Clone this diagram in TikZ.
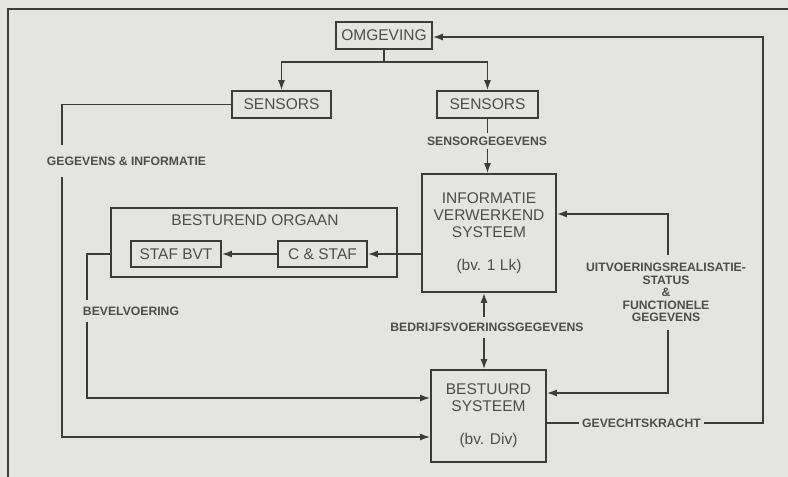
\documentclass[tikz,border=0pt]{standalone}
\usepackage{fontspec}
\setmainfont{Liberation Sans}
\usetikzlibrary{arrows.meta}
\definecolor{bg}{HTML}{E4E4E1}
\definecolor{ln}{HTML}{3C3C3C}
\definecolor{tx}{HTML}{4E4E4E}
\tikzset{
  x=1bp, y=-1bp,
  box/.style={draw=ln, line width=1.6bp, inner sep=0pt, align=center, text=tx,
    font=\fontsize{15.5bp}{17bp}\selectfont},
  lbl/.style={inner sep=0pt, align=center, text=tx,
    font=\bfseries\fontsize{12.2bp}{12.8bp}\selectfont},
  wire/.style={draw=ln, line width=1.6bp},
  arr/.style={wire, -{Latex[length=10bp,width=7bp]}}
}
\begin{document}
\begin{tikzpicture}
\fill[bg] (0,0) rectangle (788,477);
\useasboundingbox (0,0) rectangle (788,477);
% page frame
\draw[wire] (8,477) -- (8,9) -- (788,9);

% boxes
\node[box, minimum width=96bp, minimum height=27bp] (omg) at (384,35.5) {OMGEVING};
\node[box, minimum width=99bp, minimum height=27bp] (sensL) at (281.5,104.5) {SENSORS};
\node[box, minimum width=101bp, minimum height=27bp] (sensR) at (487.5,104.5) {SENSORS};
\node[box, minimum width=134bp, minimum height=118bp] (info) at (489,233)
  {INFORMATIE\\VERWERKEND\\SYSTEEM\\[16bp](bv. 1 Lk)};
\node[box, minimum width=286bp, minimum height=69bp] (best) at (254,242.5) {};
\node[inner sep=0pt, text=tx, font=\fontsize{15.5bp}{17bp}\selectfont] (bestt) at (255,220) {BESTUREND ORGAAN};
\node[box, minimum width=90bp, minimum height=26bp] (staf) at (176,254) {STAF BVT};
\node[box, minimum width=89bp, minimum height=26bp] (cstaf) at (322.5,254) {C \& STAF};
\node[box, minimum width=115bp, minimum height=92bp] (bst) at (488.5,416)
  {BESTUURD\\SYSTEEM\\[16bp](bv. Div)};

% labels
\node[lbl, minimum height=16bp] (lab1) at (487,141) {SENSORGEGEVENS};
\node[lbl, minimum height=22bp] (lab2) at (131,311) {BEVELVOERING};
\node[lbl, minimum height=32bp] (lab3) at (126.5,161) {GEGEVENS \& INFORMATIE};
\node[lbl, minimum height=21bp] (lab4) at (487,327.5) {BEDRIJFSVOERINGSGEGEVENS};
\node[lbl, minimum height=75bp, font=\bfseries\fontsize{12.2bp}{12.4bp}\selectfont] (lab5) at (666,292.5)
  {UITVOERINGSREALISATIE-\\STATUS\\\&\\FUNCTIONELE\\GEGEVENS};
\node[lbl, minimum height=14bp, inner xsep=3bp] (lab6) at (641.5,423) {GEVECHTSKRACHT};

% helper coordinates
\coordinate (bv) at (87,254);
\coordinate (bvb) at (87,398);
\coordinate (gi) at (62,104.5);
\coordinate (gib) at (62,437);
\coordinate (bx) at (484,327.5);
\coordinate (ux) at (668,214);
\coordinate (uy) at (668,393);
\coordinate (gk1) at (763,423);
\coordinate (gk2) at (763,37);

% connectors
\draw[arr] (omg.south) -- ++(0,12) -| (sensL.north);
\draw[arr] (omg.south) -- ++(0,12) -| (sensR.north);
\draw[wire] (sensR.south) -- (sensR.south |- lab1.north);
\draw[arr] (sensR.south |- lab1.south) -- (sensR.south |- info.north);
\draw[arr] (info.west |- cstaf.east) -- (cstaf.east);
\draw[arr] (cstaf.west) -- (staf.east);
% bevelvoering
\draw[wire] (best.west |- bv) -- (bv) -- (lab2.north -| bv);
\draw[arr] (lab2.south -| bv) -- (bvb) -- (bvb -| bst.west);
% gegevens & informatie
\draw[wire] (sensL.west) -- (gi) -- (lab3.north -| gi);
\draw[arr] (lab3.south -| gi) -- (gib) -- (gib -| bst.west);
% bedrijfsvoeringsgegevens
\draw[arr] (lab4.north -| bx) -- (info.south -| bx);
\draw[arr] (lab4.south -| bx) -- (bst.north -| bx);
% uitvoeringsrealisatiestatus
\draw[arr] (lab5.north -| ux) -- (ux) -- (ux -| info.east);
\draw[arr] (lab5.south -| ux) -- (uy) -- (uy -| bst.east);
% gevechtskracht
\draw[wire] (bst.east |- lab6) -- (lab6.west);
\draw[arr] (lab6.east) -- (gk1) -- (gk2) -- (gk2 -| omg.east);
\end{tikzpicture}
\end{document}
